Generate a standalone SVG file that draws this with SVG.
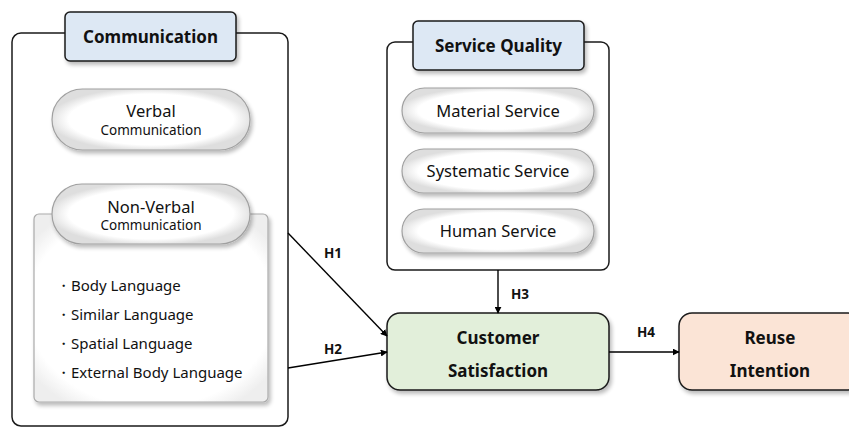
<svg xmlns="http://www.w3.org/2000/svg" width="849" height="428" viewBox="0 0 849 428">
  <defs>
    <filter id="shadow" x="-10%" y="-10%" width="130%" height="140%">
      <feGaussianBlur in="SourceAlpha" stdDeviation="2"/>
      <feOffset dx="2" dy="3" result="b"/>
      <feComponentTransfer><feFuncA type="linear" slope="0.28"/></feComponentTransfer>
      <feMerge><feMergeNode/><feMergeNode in="SourceGraphic"/></feMerge>
    </filter>
    <radialGradient id="pillFill" cx="50%" cy="50%" r="52%">
      <stop offset="0.8" stop-color="#ffffff"/>
      <stop offset="1" stop-color="#dedede"/>
    </radialGradient>
    <radialGradient id="groupFill" cx="50%" cy="50%" r="62%">
      <stop offset="0.85" stop-color="#ffffff"/>
      <stop offset="1" stop-color="#eeeeee"/>
    </radialGradient>
    <marker id="arrow" viewBox="0 0 10 10" refX="9" refY="5" markerWidth="7" markerHeight="7" markerUnits="userSpaceOnUse" orient="auto">
      <path d="M0,0 L10,5 L0,10 z" fill="#000"/>
    </marker>
  </defs>
  <style>
    .frame { fill: #ffffff; stroke: #1a1a1a; stroke-width: 1.5; }
    .header { fill: #dde8f4; stroke: #1a1a1a; stroke-width: 1.5; }
    .pill { fill: url(#pillFill); stroke: #a0a0a0; stroke-width: 1.2; }
    .group { fill: url(#groupFill); stroke: #ababab; stroke-width: 1.2; }
    .green { fill: #e2efda; stroke: #1a1a1a; stroke-width: 1.5; }
    .peach { fill: #fbe4d6; stroke: #1a1a1a; stroke-width: 1.5; }
    .t { font-family: "Noto Sans", "Open Sans", sans-serif; fill: #111; text-anchor: middle; }
    .b { font-weight: bold; }
    .bullet { font-family: "Noto Sans", "Open Sans", sans-serif; fill: #111; font-size: 15px; }
    .conn { stroke: #000; stroke-width: 1.4; fill: none; marker-end: url(#arrow); }
  </style>

  <!-- Communication construct -->
  <g id="communication">
    <rect class="frame" x="12" y="33" width="276" height="393" rx="9"/>
    <rect class="header" x="65" y="12" width="171" height="49" rx="5" filter="url(#shadow)"/>
    <text class="t b" x="150.5" y="43" font-size="17">Communication</text>
  </g>

  <g id="verbal">
    <rect class="pill" x="52" y="89" width="198" height="61" rx="30.5" filter="url(#shadow)"/>
    <text class="t" x="151" y="117" font-size="16.5">Verbal</text>
    <text class="t" x="151" y="135" font-size="13.5">Communication</text>
  </g>

  <g id="non-verbal">
    <rect class="group" x="34" y="214" width="234" height="188" rx="5" filter="url(#shadow)"/>
    <rect class="pill" x="52" y="184" width="198" height="60" rx="30" filter="url(#shadow)"/>
    <text class="t" x="151" y="213" font-size="16.5">Non-Verbal</text>
    <text class="t" x="151" y="230" font-size="13.5">Communication</text>
    <text class="bullet" x="56" y="291">・Body Language</text>
    <text class="bullet" x="56" y="320">・Similar Language</text>
    <text class="bullet" x="56" y="349">・Spatial Language</text>
    <text class="bullet" x="56" y="378">・External Body Language</text>
  </g>

  <!-- Service Quality construct -->
  <g id="service-quality">
    <rect class="frame" x="387" y="42" width="222" height="228" rx="8"/>
    <rect class="header" x="413" y="21" width="171" height="49" rx="5" filter="url(#shadow)"/>
    <text class="t b" x="498.5" y="52" font-size="17">Service Quality</text>
  </g>

  <g id="material-service">
    <rect class="pill" x="402" y="88" width="192" height="45" rx="22.5" filter="url(#shadow)"/>
    <text class="t" x="498" y="117" font-size="16.5">Material Service</text>
  </g>
  <g id="systematic-service">
    <rect class="pill" x="402" y="149" width="192" height="44" rx="22" filter="url(#shadow)"/>
    <text class="t" x="498" y="177" font-size="16.5">Systematic Service</text>
  </g>
  <g id="human-service">
    <rect class="pill" x="402" y="209" width="192" height="44" rx="22" filter="url(#shadow)"/>
    <text class="t" x="498" y="237" font-size="16.5">Human Service</text>
  </g>

  <!-- Outcomes -->
  <g id="customer-satisfaction">
    <rect class="green" x="387" y="313" width="222" height="77" rx="13" filter="url(#shadow)"/>
    <text class="t b" x="498" y="344" font-size="17">Customer</text>
    <text class="t b" x="498" y="377" font-size="17">Satisfaction</text>
  </g>

  <g id="reuse-intention">
    <rect class="peach" x="679" y="313" width="182" height="77" rx="13" filter="url(#shadow)"/>
    <text class="t b" x="770" y="344" font-size="17">Reuse</text>
    <text class="t b" x="770" y="377" font-size="17">Intention</text>
  </g>

  <!-- Hypothesised paths -->
  <g id="connectors">
    <line class="conn" x1="288" y1="233" x2="387" y2="336"/>
    <line class="conn" x1="288" y1="368" x2="387" y2="352"/>
    <line class="conn" x1="498" y1="270" x2="498" y2="313"/>
    <line class="conn" x1="609" y1="352" x2="679" y2="352"/>
    <text class="t b" x="333" y="258" font-size="13.5">H1</text>
    <text class="t b" x="333" y="354" font-size="13.5">H2</text>
    <text class="t b" x="520" y="299" font-size="13.5">H3</text>
    <text class="t b" x="646" y="337" font-size="13.5">H4</text>
  </g>
</svg>
